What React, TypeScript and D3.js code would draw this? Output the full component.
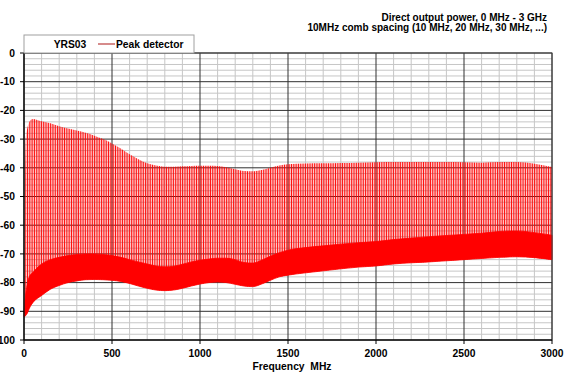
import React from "react";
import * as d3 from "d3";

// ---- data ----
const titleLines = [
  "Direct output power, 0 MHz - 3 GHz",
  "10MHz comb spacing (10 MHz, 20 MHz, 30 MHz, ...)",
];
const legendTitle = "YRS03";
const seriesName = "Peak detector";
const xTicks = [0, 500, 1000, 1500, 2000, 2500, 3000];
const yTicks = [0, -10, -20, -30, -40, -50, -60, -70, -80, -90, -100];
const xLabel = "Frequency  MHz";
const combSpacing = 10; // MHz

// envelope sample frequencies (MHz)
const freqs = [0, 10, 20, 30, 50, 100, 150, 200, 250, 300, 350, 400, 450, 500, 550, 600, 650, 700, 750, 800, 850, 900, 950, 1000, 1050, 1100, 1150, 1200, 1250, 1300, 1350, 1400, 1450, 1500, 1600, 1700, 1800, 1900, 2000, 2100, 2200, 2300, 2400, 2500, 2600, 2700, 2800, 2900, 3000];
// comb peak levels (dB)
const peakLevel = [-90, -30, -26, -24, -23, -23.8, -24.5, -25.5, -26.3, -27, -27.8, -28.8, -30, -31.5, -33.3, -35.3, -37, -38.4, -39.2, -39.6, -39.6, -39.5, -39.4, -39.3, -39.3, -39.4, -39.8, -40.5, -41.1, -41.2, -40.8, -40, -39.2, -38.8, -38.5, -38.4, -38.3, -38.2, -38.1, -38, -38, -38, -38, -38.1, -38.2, -38, -38, -38.6, -39.7];
// noise floor upper edge (dB)
const noiseTop = [-90, -84, -80, -78, -76.5, -73.5, -72, -71.2, -70.6, -70.2, -70, -70, -70.2, -70.6, -71.2, -72, -72.8, -73.5, -74.2, -74.5, -74.3, -73.6, -72.8, -72.2, -71.8, -71.5, -71.5, -72, -73, -73.2, -72.2, -70.8, -69.6, -68.7, -67.8, -67.2, -66.6, -66.1, -65.7, -65, -64.5, -64, -63.6, -63.2, -62.8, -62.2, -62, -62.6, -63.5];
// noise floor lower edge (dB)
const noiseBottom = [-92, -91.5, -90.5, -89, -87, -84.5, -82.3, -81, -80, -79.4, -79, -78.9, -79, -79.2, -79.6, -80.3, -81.2, -82, -82.6, -82.8, -82.6, -82, -81.2, -80.5, -80, -79.8, -80, -80.6, -81.2, -81.4, -80.5, -79.2, -78, -77.4, -76.6, -75.9, -75.2, -74.6, -74.2, -73.5, -73.1, -72.8, -72.4, -72, -71.6, -71.2, -71, -71.3, -72];

type Row = { f: number; peak: number; top: number; bottom: number };
const rows: Row[] = freqs.map((f, i) => ({ f, peak: peakLevel[i], top: noiseTop[i], bottom: noiseBottom[i] }));

export default function App() {
  const W = 570, H = 380;
  const x = d3.scaleLinear().domain([0, 3000]).range([24, 552]);
  const y = d3.scaleLinear().domain([-100, 0]).range([340, 53]);

  const combFreqs = d3.range(0, 3000 + 0.001, combSpacing);
  const minorX = d3.range(0, 3001, 100);
  const minorY = d3.range(-100, 1, 2);

  const combArea = d3.area<Row>().x(d => x(d.f)).y0(d => y(d.bottom)).y1(d => y(d.peak)).curve(d3.curveMonotoneX);
  const noiseArea = d3.area<Row>().x(d => x(d.f)).y0(d => y(d.bottom)).y1(d => y(d.top)).curve(d3.curveMonotoneX);

  const font = "'Liberation Sans', Arial, sans-serif";
  const [x0, x1] = x.range();
  const [yb, yt] = y.range();

  return (
    <svg width={W} height={H} style={{ position: "absolute", left: 0, top: 0, background: "#fff" }} fontFamily={font}>
      <defs>
        <clipPath id="combClip">
          <path d={combArea(rows) || ""} />
        </clipPath>
      </defs>
      {/* minor grid */}
      {minorX.filter(v => v % 500 !== 0).map(v => (
        <line key={"mx" + v} x1={x(v)} x2={x(v)} y1={yb} y2={yt} stroke="#c6c6c6" strokeWidth={1} />
      ))}
      {minorY.filter(v => v % 10 !== 0).map(v => (
        <line key={"my" + v} x1={x0} x2={x1} y1={y(v)} y2={y(v)} stroke="#c6c6c6" strokeWidth={1} />
      ))}
      {/* major grid */}
      {xTicks.map(v => (
        <line key={"gx" + v} x1={x(v)} x2={x(v)} y1={yb} y2={yt} stroke="#303030" strokeWidth={1} />
      ))}
      {yTicks.map(v => (
        <line key={"gy" + v} x1={x0} x2={x1} y1={y(v)} y2={y(v)} stroke="#303030" strokeWidth={1} />
      ))}
      {/* comb lines */}
      <g clipPath="url(#combClip)">
        {combFreqs.map(f => (
          <line key={"c" + f} x1={x(f)} x2={x(f)} y1={yb} y2={yt} stroke="#ff0000" strokeWidth={0.95} />
        ))}
      </g>
      {/* noise floor */}
      <path d={noiseArea(rows) || ""} fill="#ff0000" stroke="#ff0000" strokeWidth={0.8} />
      {/* frame */}
      <rect x={x0} y={yt} width={x1 - x0} height={yb - yt} fill="none" stroke="#404040" strokeWidth={1} />
      <line x1={x0} x2={x0} y1={yt} y2={yb} stroke="#000" />
      <line x1={x0} x2={x1} y1={yb} y2={yb} stroke="#000" />
      {/* y ticks */}
      {yTicks.map(v => (
        <g key={"yt" + v}>
          <line x1={x0 - 4} x2={x0} y1={y(v)} y2={y(v)} stroke="#000" />
          <text x={15} y={y(v) + 3.7} textAnchor="end" fontSize={10.3} fontWeight="bold" fill="#000">{v}</text>
        </g>
      ))}
      {/* x ticks */}
      {xTicks.map(v => (
        <g key={"xt" + v}>
          <line x1={x(v)} x2={x(v)} y1={yb} y2={yb + 4} stroke="#000" />
          <text x={x(v)} y={357} textAnchor="middle" fontSize={10.3} fontWeight="bold" fill="#000">{v}</text>
        </g>
      ))}
      <text x={(x0 + x1) / 2 + 4} y={369.5} textAnchor="middle" fontSize={10.3} fontWeight="bold" fill="#000" style={{ whiteSpace: "pre" }}>{xLabel}</text>
      {/* title */}
      {titleLines.map((t, i) => (
        <text key={"t" + i} x={547} y={20.5 + i * 10.8} textAnchor="end" fontSize={10} fontWeight="bold" fill="#000">{t}</text>
      ))}
      {/* legend */}
      <rect x={x0} y={35} width={170} height={yt - 35} fill="#fff" stroke="#a0a0a0" strokeWidth={1} />
      <text x={70} y={47.5} textAnchor="middle" fontSize={10.3} fontWeight="bold" fill="#000">{legendTitle}</text>
      <line x1={98} x2={115} y1={44} y2={44} stroke="#c86464" strokeWidth={1.5} />
      <text x={116} y={47.5} fontSize={10.3} fontWeight="bold" fill="#000">{seriesName}</text>
    </svg>
  );
}
